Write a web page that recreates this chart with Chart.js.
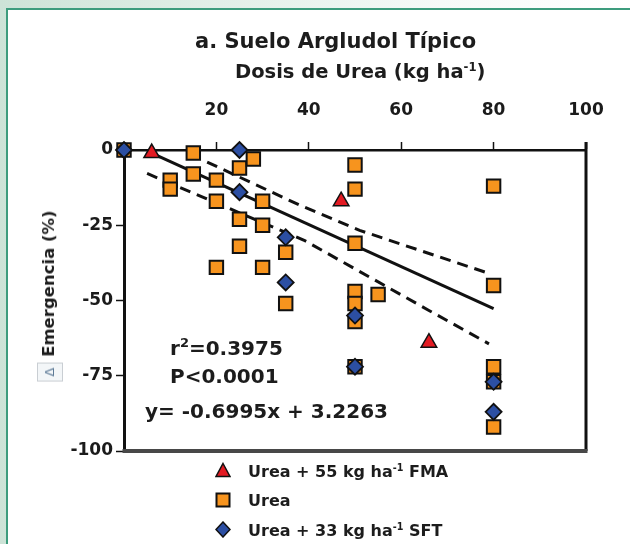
<!DOCTYPE html>
<html>
<head>
<meta charset="utf-8">
<script src="https://cdn.jsdelivr.net/npm/chart.js@4"></script>
<style>
  html, body { margin: 0; padding: 0; overflow: hidden; }
  #wrap {
    width: 630px;
    height: 544px;
    overflow: hidden;
    position: relative;
    background: linear-gradient(90deg, #cde3d7 0%, #e2efe8 35%, #f6faf8 70%, #ffffff 100%);
    font-family: "DejaVu Sans", sans-serif;
    font-weight: bold;
    color: #1c1c1c;
  }
  #panel {
    position: absolute;
    left: 6px;
    top: 8px;
    right: 0;
    bottom: 0;
    background: #fff;
  }
  .edge { position: absolute; background: #3d9c7d; }
  #chart { position: absolute; left: 0; top: 0; }
  .txt { position: absolute; white-space: nowrap; line-height: 1; }
  sup { font-size: 0.6em; vertical-align: 0.6em; line-height: 0; }
  #title { left: 195px; top: 30.5px; font-size: 21px; }
  #subtitle { left: 235px; top: 62px; font-size: 19.5px; }
  .note { font-size: 20px; }
  .note sup { font-size: 0.65em; }
  #ytitle {
    position: absolute;
    left: 50px;
    top: 296px;
    transform: translate(-50%, -50%) rotate(-90deg);
    white-space: nowrap;
    font-size: 16.5px;
    line-height: 24px;
  }
  .delta {
    display: inline-block;
    border: 1px solid #c9ced3;
    background: #f3f6f8;
    color: #5d7a96;
    font-size: 13px;
    font-weight: normal;
    padding: 0 4px;
    line-height: 24px;
  }
  .leg { position: absolute; font-size: 16px; line-height: 1; white-space: nowrap; }
  .mk { position: absolute; }
</style>
</head>
<body>
<div id="wrap">
<div id="panel"></div>
<div class="edge" style="left:6px; top:8px; right:0; height:2px;"></div>
<div class="edge" style="left:6px; top:8px; bottom:0; width:2px;"></div>
<canvas id="chart" width="630" height="544"></canvas>

<div class="txt" id="title">a. Suelo Argludol Típico</div>
<div class="txt" id="subtitle">Dosis de Urea (kg ha<sup>-1</sup>)</div>
<div id="ytitle"><span class="delta">Δ</span> Emergencia (%)</div>

<div class="txt note" style="left:170px; top:338px;">r<sup>2</sup>=0.3975</div>
<div class="txt note" style="left:170px; top:366px;">P&lt;0.0001</div>
<div class="txt note" style="left:145px; top:401px;">y= -0.6995x + 3.2263</div>

<svg class="mk" style="left:215px; top:462px;" width="16" height="16"><polygon points="8,1.5 15,14.5 1,14.5" fill="#e31b23" stroke="#111" stroke-width="1.5"/></svg>
<div class="leg" style="left:248px; top:464px;">Urea + 55 kg ha<sup>-1</sup> FMA</div>
<svg class="mk" style="left:215px; top:492px;" width="16" height="16"><rect x="1.5" y="1.5" width="13" height="13" fill="#f7941e" stroke="#111" stroke-width="2"/></svg>
<div class="leg" style="left:248px; top:492.5px;">Urea</div>
<svg class="mk" style="left:215px; top:521px;" width="16" height="17"><polygon points="8,1 15,8.5 8,16 1,8.5" fill="#2c4fa3" stroke="#111" stroke-width="1.5"/></svg>
<div class="leg" style="left:248px; top:522.5px;">Urea + 33 kg ha<sup>-1</sup> SFT</div>
</div>

<script>
// dosis de urea (kg/ha) vs variacion de emergencia (%)
const xTicks = [0, 20, 40, 60, 80, 100];
const xTickLabels = ["", "20", "40", "60", "80", "100"];
const yTicks = [-100, -75, -50, -25, 0];
const yTickLabels = ["-100", "-75", "-50", "-25", "0"];

const fmaX = [6, 47, 66];
const fmaY = [-1, -17, -64];

const ureaX = [0, 10, 10, 15, 25, 28, 15, 20, 20, 30, 25, 30, 25, 35, 20, 30, 35,
    50, 50, 80, 50, 80, 50, 50, 55, 50, 50, 80, 80, 80];
const ureaY = [0, -10, -13, -1, -6, -3, -8, -10, -17, -17, -23, -25, -32, -34, -39, -39, -51,
    -5, -13, -12, -31, -45, -47, -51, -48, -57, -72, -72, -77, -92];

const sftX = [0, 25, 25, 35, 35, 50, 50, 80, 80];
const sftY = [0, 0, -14, -29, -44, -55, -72, -77, -87];

// recta de regresion y bandas de confianza
const fitX = [6, 80];
const fitY = [-1, -52.7];
const upperX = [18, 38, 51, 79];
const upperY = [-4, -18.3, -26.7, -41];
const lowerX = [5, 18, 39, 66, 79];
const lowerY = [-7.8, -16.3, -30, -53.3, -64.4];

function pts(xs, ys) {
    return xs.map((x, i) => ({ x: x, y: ys[i] }));
}

const tickFont = { family: "DejaVu Sans", weight: "bold", size: 17 };

const framePlugin = {
    id: "frame",
    beforeDatasetsDraw(chart) {
        const { ctx, chartArea: a } = chart;
        ctx.save();
        ctx.strokeStyle = "#111";
        ctx.lineWidth = 3;
        ctx.beginPath();
        ctx.moveTo(a.right, a.top - 8);
        ctx.lineTo(a.right, a.bottom);
        ctx.stroke();
        ctx.strokeStyle = "#484848";
        ctx.lineWidth = 4;
        ctx.beginPath();
        ctx.moveTo(a.left - 1.5, a.bottom);
        ctx.lineTo(a.right + 1.5, a.bottom);
        ctx.stroke();
        ctx.restore();
    },
};

const lineStyle = {
    showLine: true,
    pointRadius: 0,
    borderColor: "#111",
    borderWidth: 3,
    fill: false,
    clip: false,
};

new Chart(document.getElementById("chart"), {
    type: "scatter",
    data: {
        datasets: [
            {
                label: "Urea + 33 kg ha-1 SFT",
                data: pts(sftX, sftY),
                pointStyle: "rectRot",
                pointRadius: 8,
                backgroundColor: "#2c4fa3",
                borderColor: "#111",
                borderWidth: 1.8,
                order: 0,
                clip: false,
            },
            {
                label: "Urea + 55 kg ha-1 FMA",
                data: pts(fmaX, fmaY),
                pointStyle: "triangle",
                pointRadius: 9,
                backgroundColor: "#e31b23",
                borderColor: "#111",
                borderWidth: 1.5,
                order: 1,
                clip: false,
            },
            {
                label: "Urea",
                data: pts(ureaX, ureaY),
                pointStyle: "rect",
                pointRadius: 9.5,
                backgroundColor: "#f7941e",
                borderColor: "#111",
                borderWidth: 2,
                order: 2,
                clip: false,
            },
            { ...lineStyle, label: "ajuste", data: pts(fitX, fitY), order: 3 },
            { ...lineStyle, label: "sup", data: pts(upperX, upperY), borderDash: [11, 7], order: 4 },
            { ...lineStyle, label: "inf", data: pts(lowerX, lowerY), borderDash: [11, 7], order: 5 },
        ],
    },
    options: {
        responsive: false,
        animation: false,
        layout: { padding: { left: 0, top: 0, right: 44, bottom: 93 } },
        plugins: {
            legend: { display: false },
            tooltip: { enabled: false },
        },
        scales: {
            x: {
                type: "linear",
                position: "top",
                min: 0,
                max: 100,
                afterBuildTicks: (s) => { s.ticks = xTicks.map((v) => ({ value: v })); },
                afterFit: (s) => { s.height = 150; },
                ticks: {
                    padding: 21,
                    color: "#1b1b1b",
                    font: tickFont,
                    callback: (v, i) => xTickLabels[i],
                },
                grid: { drawOnChartArea: false, tickLength: 8, tickWidth: 1.5, tickColor: "#111" },
                border: { color: "#111", width: 2.5 },
            },
            y: {
                type: "linear",
                min: -100,
                max: 0,
                afterBuildTicks: (s) => { s.ticks = yTicks.map((v) => ({ value: v })); },
                afterFit: (s) => { s.width = 124; },
                ticks: {
                    padding: 3,
                    color: "#1b1b1b",
                    font: tickFont,
                    callback: (v, i) => yTickLabels[i],
                },
                grid: { drawOnChartArea: false, tickLength: 8, tickWidth: 1.5, tickColor: "#111" },
                border: { color: "#111", width: 3 },
            },
        },
    },
    plugins: [framePlugin],
});
</script>
</body>
</html>
